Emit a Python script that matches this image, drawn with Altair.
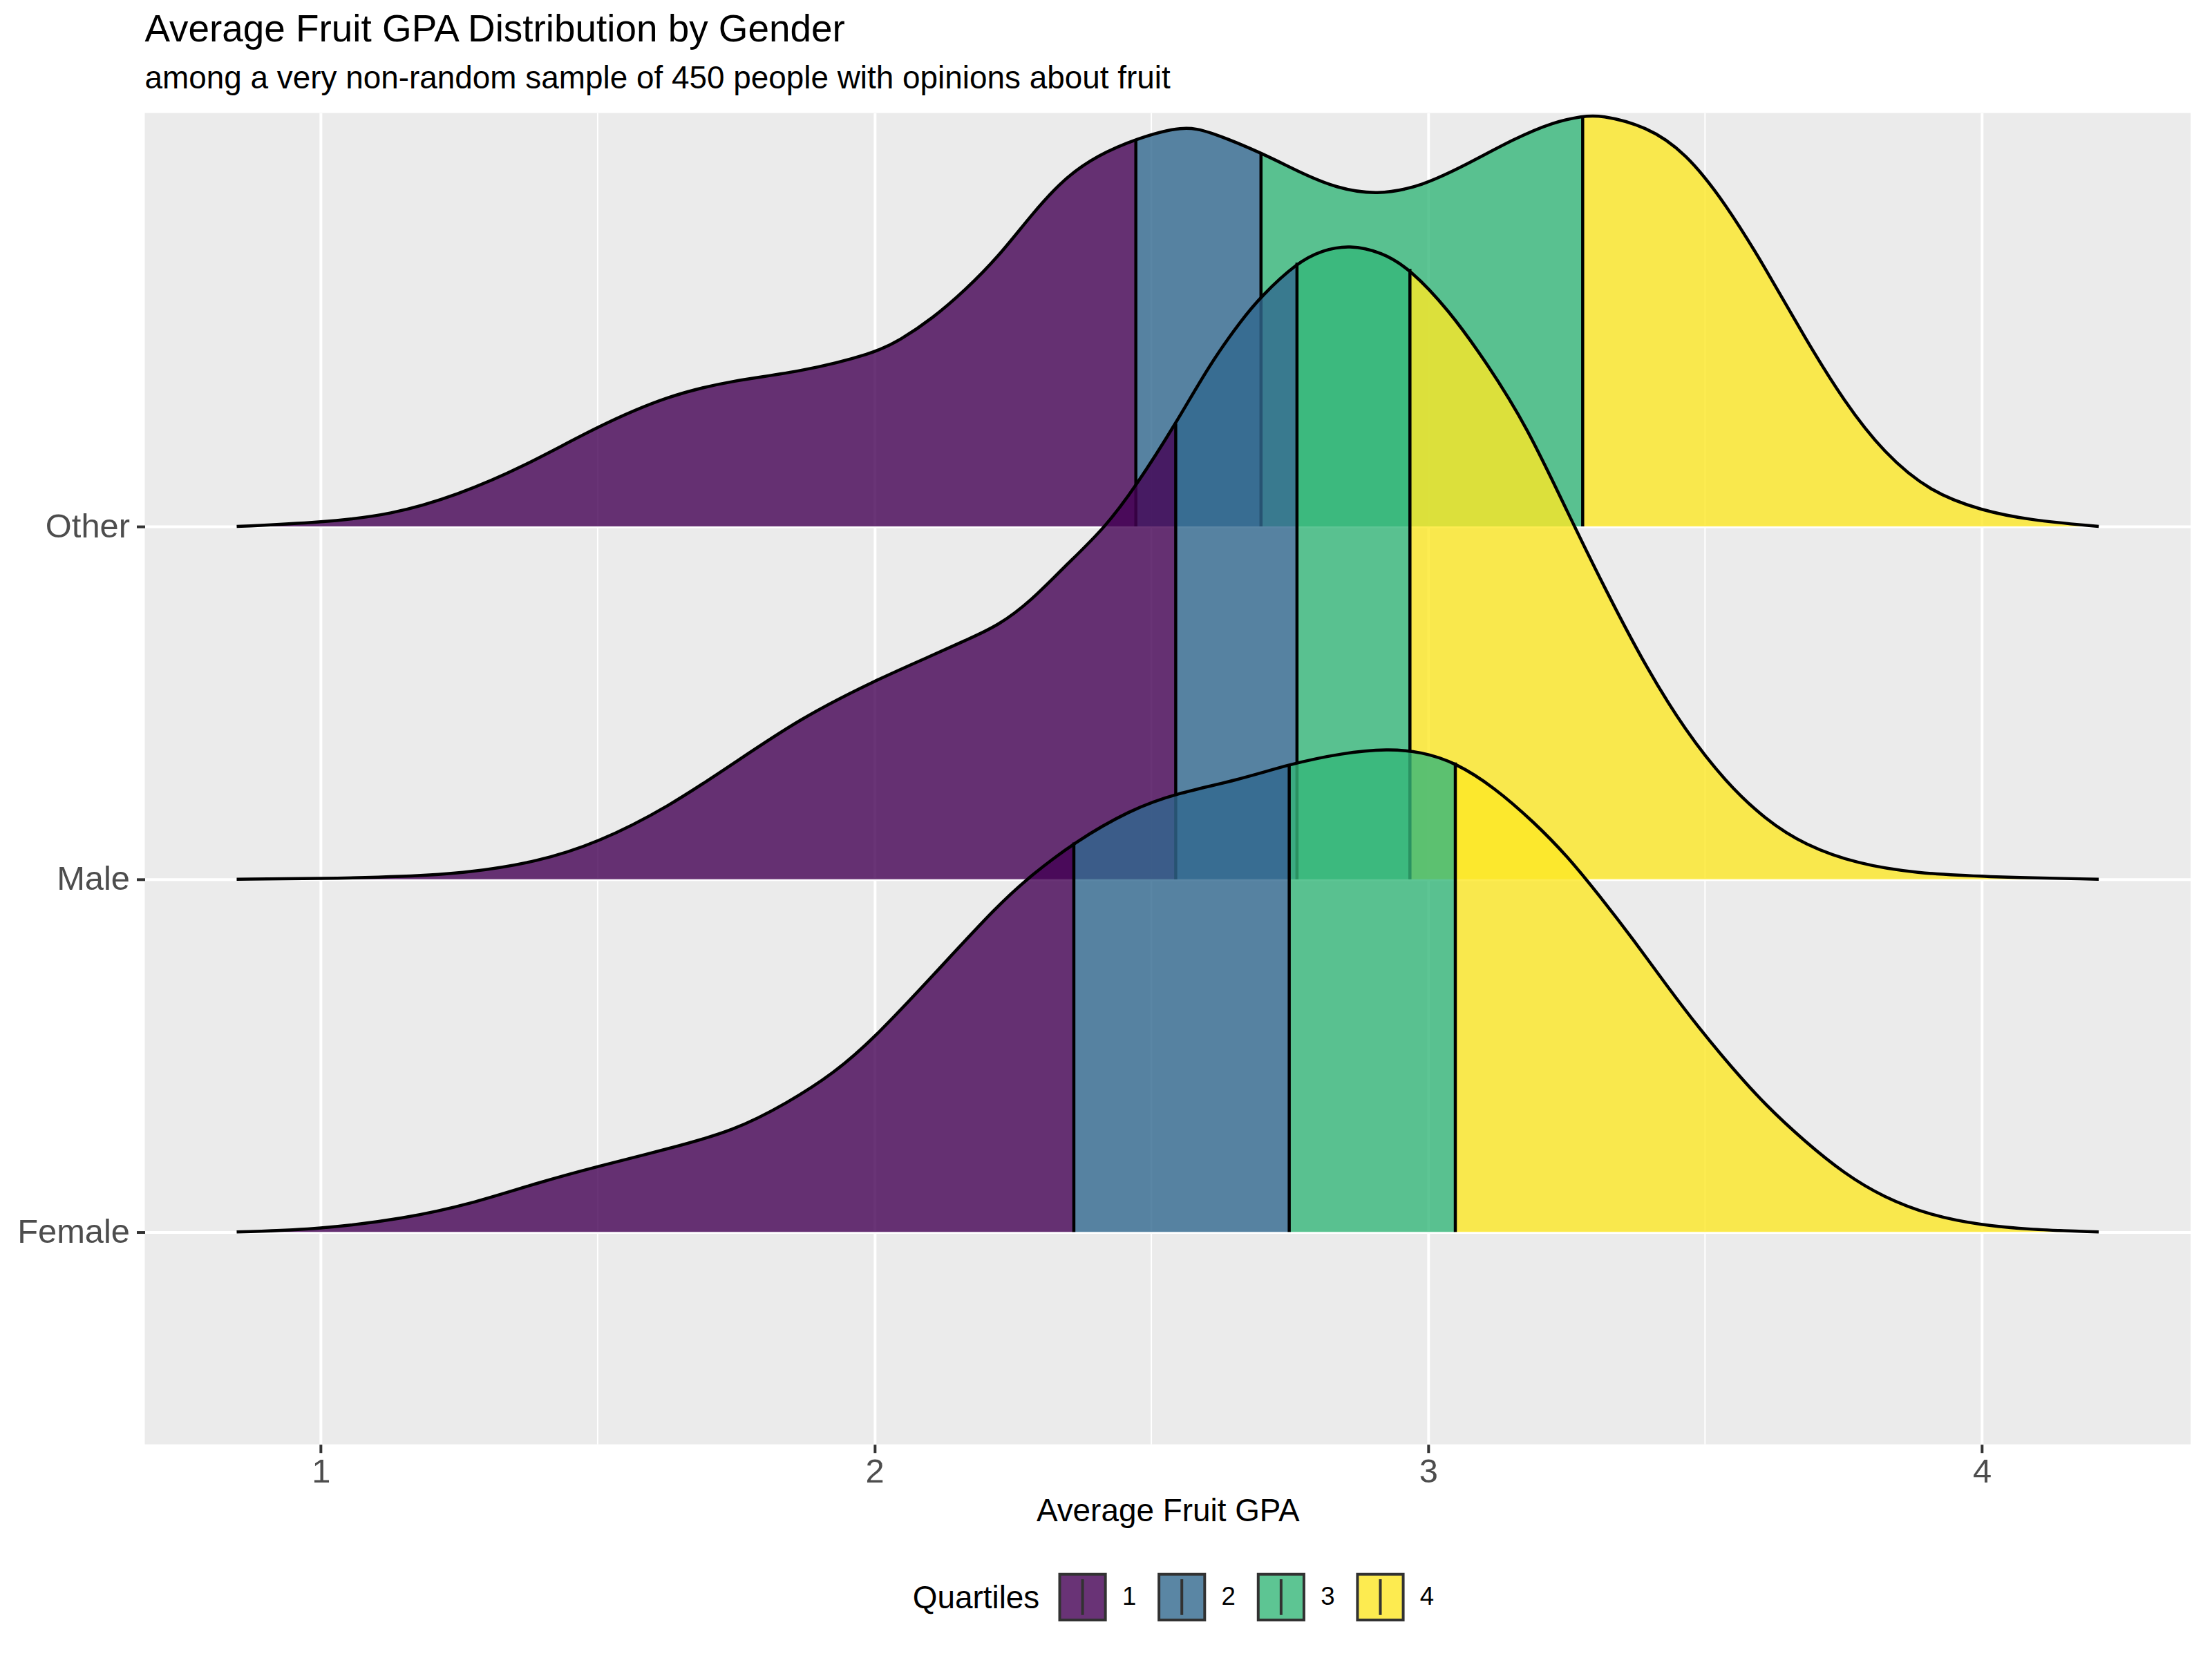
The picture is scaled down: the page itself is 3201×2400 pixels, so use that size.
import altair as alt
import pandas as pd

# ---------------- data ----------------
genders = ["Female", "Male", "Other"]
baselines = [1, 2, 3]
quartile_labels = ["1", "2", "3", "4"]
viridis = ["#440154", "#31688E", "#35B779", "#FDE725"]

other_x = [0.848, 1.0, 1.128, 1.247, 1.366, 1.5, 1.628, 1.747, 1.866, 2.0, 2.045, 2.105, 2.164,
           2.224, 2.284, 2.343, 2.403, 2.472, 2.558, 2.606, 2.698, 2.773, 2.833, 2.907, 2.988,
           3.072, 3.155, 3.227, 3.279, 3.31, 3.394, 3.465, 3.537, 3.609, 3.68, 3.752, 3.823,
           3.907, 4.0, 4.086, 4.211]
other_h = [0, 0.011, 0.033, 0.089, 0.169, 0.284, 0.372, 0.415, 0.438, 0.491, 0.527, 0.590, 0.670,
           0.765, 0.885, 0.988, 1.052, 1.099, 1.137, 1.119, 1.060, 1.000, 0.960, 0.939, 0.964,
           1.028, 1.099, 1.147, 1.163, 1.167, 1.135, 1.060, 0.916, 0.733, 0.535, 0.352, 0.208,
           0.097, 0.045, 0.018, 0]
other_q = [2.472, 2.698, 3.279]

male_x = [0.848, 1.0, 1.151, 1.27, 1.39, 1.5, 1.628, 1.747, 1.866, 2.0, 2.105, 2.164, 2.224,
          2.284, 2.343, 2.415, 2.472, 2.544, 2.605, 2.663, 2.698, 2.763, 2.809, 2.857, 2.916,
          2.967, 3.036, 3.107, 3.179, 3.251, 3.322, 3.394, 3.465, 3.537, 3.609, 3.68, 3.776,
          3.883, 4.0, 4.211]
male_h = [0, 0.002, 0.007, 0.019, 0.049, 0.103, 0.205, 0.330, 0.456, 0.563, 0.635, 0.677, 0.719,
          0.791, 0.886, 0.994, 1.114, 1.291, 1.459, 1.586, 1.652, 1.748, 1.783, 1.798, 1.778,
          1.730, 1.616, 1.461, 1.281, 1.042, 0.815, 0.599, 0.420, 0.276, 0.169, 0.097, 0.043,
          0.017, 0.007, 0]
male_q = [2.544, 2.763, 2.967]

female_x = [0.848, 1.0, 1.151, 1.27, 1.39, 1.5, 1.628, 1.747, 1.843, 1.926, 2.0, 2.105, 2.224,
            2.284, 2.36, 2.462, 2.544, 2.654, 2.749, 2.845, 2.928, 2.988, 3.049, 3.119, 3.191,
            3.251, 3.31, 3.37, 3.43, 3.489, 3.549, 3.609, 3.68, 3.752, 3.823, 3.907, 4.0,
            4.086, 4.211]
female_h = [0, 0.008, 0.038, 0.079, 0.139, 0.186, 0.236, 0.287, 0.366, 0.449, 0.550, 0.726, 0.929,
            1.012, 1.104, 1.197, 1.243, 1.280, 1.326, 1.358, 1.370, 1.361, 1.331, 1.261, 1.162,
            1.066, 0.952, 0.830, 0.700, 0.578, 0.465, 0.360, 0.257, 0.165, 0.098, 0.047, 0.019,
            0.007, 0]
female_q = [2.36, 2.749, 3.049]

x_ticks = [1, 2, 3, 4]
x_minor = [1.5, 2.5, 3.5]
x_domain = [0.682, 4.377]
y_domain = [0.398, 4.172]

title_text = "Average Fruit GPA Distribution by Gender"
subtitle_text = "among a very non-random sample of 450 people with opinions about fruit"
x_title = "Average Fruit GPA"
legend_title = "Quartiles"

# ---------------- layout / style ----------------
W, H = 2968, 1932
FONT = "Liberation Sans"
PANEL = "#EBEBEB"
LEGEND_PATH = "M-1,-1H1V1H-1Z M0,-0.78V0.78"
INTERP = "basis"

label_expr = " : ".join(
    f"datum.value == {b} ? '{g}'" for g, b in zip(genders[:-1], baselines[:-1])
) + f" : '{genders[-1]}'"

xscale = alt.Scale(domain=x_domain, nice=False, zero=False)
yscale = alt.Scale(domain=y_domain, nice=False, zero=False)

xaxis = alt.Axis(values=x_ticks, format="d", title=x_title, grid=True, gridColor="white",
                 gridWidth=4, domain=False, tickColor="#333333", tickSize=12, tickWidth=4,
                 labelColor="#4D4D4D", labelFontSize=49, labelPadding=4, labelFont=FONT,
                 titleFont=FONT, titleFontSize=46, titleFontWeight="normal", titleColor="black",
                 titlePadding=10)
yaxis = alt.Axis(values=baselines, labelExpr=label_expr, title=None, grid=True,
                 gridColor="white", gridWidth=4, domain=False, tickColor="#333333",
                 tickSize=12, tickWidth=4, labelColor="#4D4D4D", labelFontSize=49,
                 labelPadding=10, labelFont=FONT)


def X(field="x"):
    return alt.X(f"{field}:Q", scale=xscale, axis=xaxis)


def Y(field="top"):
    return alt.Y(f"{field}:Q", scale=yscale, axis=yaxis)


fill_enc = alt.Fill(
    "q:N",
    scale=alt.Scale(domain=quartile_labels, range=viridis),
    legend=alt.Legend(
        title=legend_title, orient="none", legendX=1114, legendY=2118,
        direction="horizontal", titleOrient="left", symbolType=LEGEND_PATH,
        symbolSize=4400, symbolStrokeColor="black", symbolStrokeWidth=4,
        symbolOpacity=0.8, labelFontSize=36.7, labelFont=FONT, labelColor="black",
        titleFontSize=46, titleFont=FONT, titleFontWeight="normal", titleColor="black",
        titleBaseline="middle", titleAnchor="middle", titleLimit=600, labelLimit=200,
        labelOffset=22, columnPadding=24, titlePadding=26, padding=0,
    ),
)

# minor vertical grid lines (major grid comes from the axes)
minor_df = pd.DataFrame({"x": x_minor})
layers = [
    alt.Chart(minor_df).mark_rule(color="white", strokeWidth=2).encode(
        x=X("x"), y=alt.datum(y_domain[0], scale=yscale, axis=yaxis), y2=alt.datum(y_domain[1])
    ),
]

groups = [
    ("Other", 3, other_x, other_h, other_q),
    ("Male", 2, male_x, male_h, male_q),
    ("Female", 1, female_x, female_h, female_q),
]

for name, base, xs, hs, cuts in groups:
    rows = []
    for xv, hv in zip(xs, hs):
        k = sum(1 for c in cuts if xv > c)
        rows.append({"x": xv, "top": base + hv, "base": base, "q": quartile_labels[k]})
        if xv in cuts:
            rows.append({"x": xv, "top": base + hv, "base": base, "q": quartile_labels[k + 1]})
    area_df = pd.DataFrame(rows)
    line_df = pd.DataFrame({"x": xs, "top": [base + hv for hv in hs]})
    rule_df = pd.DataFrame({"x": cuts, "top": [base + hs[xs.index(c)] for c in cuts],
                            "base": [base] * len(cuts)})

    layers.append(
        alt.Chart(area_df).mark_area(fillOpacity=0.8, interpolate=INTERP).encode(
            x=X("x"), y=Y("top"), y2="base", fill=fill_enc
        )
    )
    layers.append(
        alt.Chart(line_df).mark_line(color="black", strokeWidth=4.5, interpolate=INTERP).encode(
            x=X("x"), y=Y("top"), order="x:Q"
        )
    )
    layers.append(
        alt.Chart(rule_df).mark_rule(color="black", strokeWidth=4.5).encode(
            x=X("x"), y=Y("base"), y2="top"
        )
    )

chart = alt.layer(*layers).properties(
    width=W,
    height=H,
    title=alt.TitleParams(
        text=title_text, subtitle=subtitle_text, anchor="start", frame="group",
        font=FONT, fontSize=55, fontWeight="normal", color="black",
        subtitleFont=FONT, subtitleFontSize=46, subtitleColor="black",
        subtitlePadding=20, offset=21,
    ),
    autosize=alt.AutoSizeParams(type="none"),
    padding={"left": 202, "top": 153, "right": 23, "bottom": 307},
    background="white",
).configure(font=FONT).configure_view(fill=PANEL, strokeWidth=0)

chart.save("out.html", embed_options={"renderer": "svg", "actions": False})
